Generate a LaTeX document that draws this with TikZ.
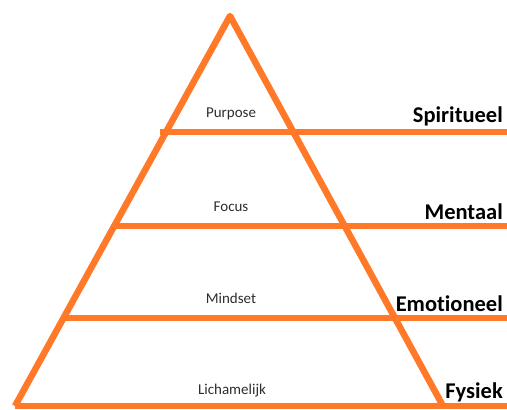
\documentclass[tikz,border=0pt]{standalone}
\usepackage{fontspec}
\setmainfont{Carlito}[Ligatures=NoCommon]
\usepackage{tikz}
\usetikzlibrary{positioning}
\definecolor{pyrorange}{RGB}{255,121,40}
\definecolor{textgray}{RGB}{45,45,45}

\begin{document}
\begin{tikzpicture}[x=1pt, y=-1pt,
    band/.style={draw=pyrorange, line width=6.5pt},
    level/.style={font=\fontsize{15}{17}\selectfont, text=textgray, inner sep=0pt},
    sidelabel/.style={font=\fontsize{22.5}{26}\selectfont\bfseries, text=black, anchor=south east, inner sep=1pt}
]
    \useasboundingbox (0,0) rectangle (507,410);

    % pyramid
    \coordinate (apex) at (230,16);
    \coordinate (baseL) at (15,406);
    \coordinate (baseR) at (443,406);
    \draw[band, line join=round] (baseL) -- (apex) -- (baseR);

    % layer lines
    \coordinate (l1) at (160,132);  \coordinate (r1) at (507,132);
    \coordinate (l2) at (112,226);  \coordinate (r2) at (507,226);
    \coordinate (l3) at (63,318);   \coordinate (r3) at (507,318);
    \coordinate (r4) at (507,406);
    \draw[band] (l1) -- (r1);
    \draw[band] (l2) -- (r2);
    \draw[band] (l3) -- (r3);
    \draw[band] (baseL) -- (r4);

    \node[level] (purpose) at (231,114) {Purpose};
    \node[level] (focus) at (231,207) {Focus};
    \node[level] (mindset) at (231,298) {Mindset};
    \node[level] (body) at (232,391) {Lichamelijk};

    \node[sidelabel] (spirit) at (504,127) {Spiritueel};
    \node[sidelabel] (mental) at (504,221) {Mentaal};
    \node[sidelabel] (emotion) at (504,313) {Emotioneel};
    \node[sidelabel] (physical) at (504,403) {Fysiek};
\end{tikzpicture}
\end{document}
